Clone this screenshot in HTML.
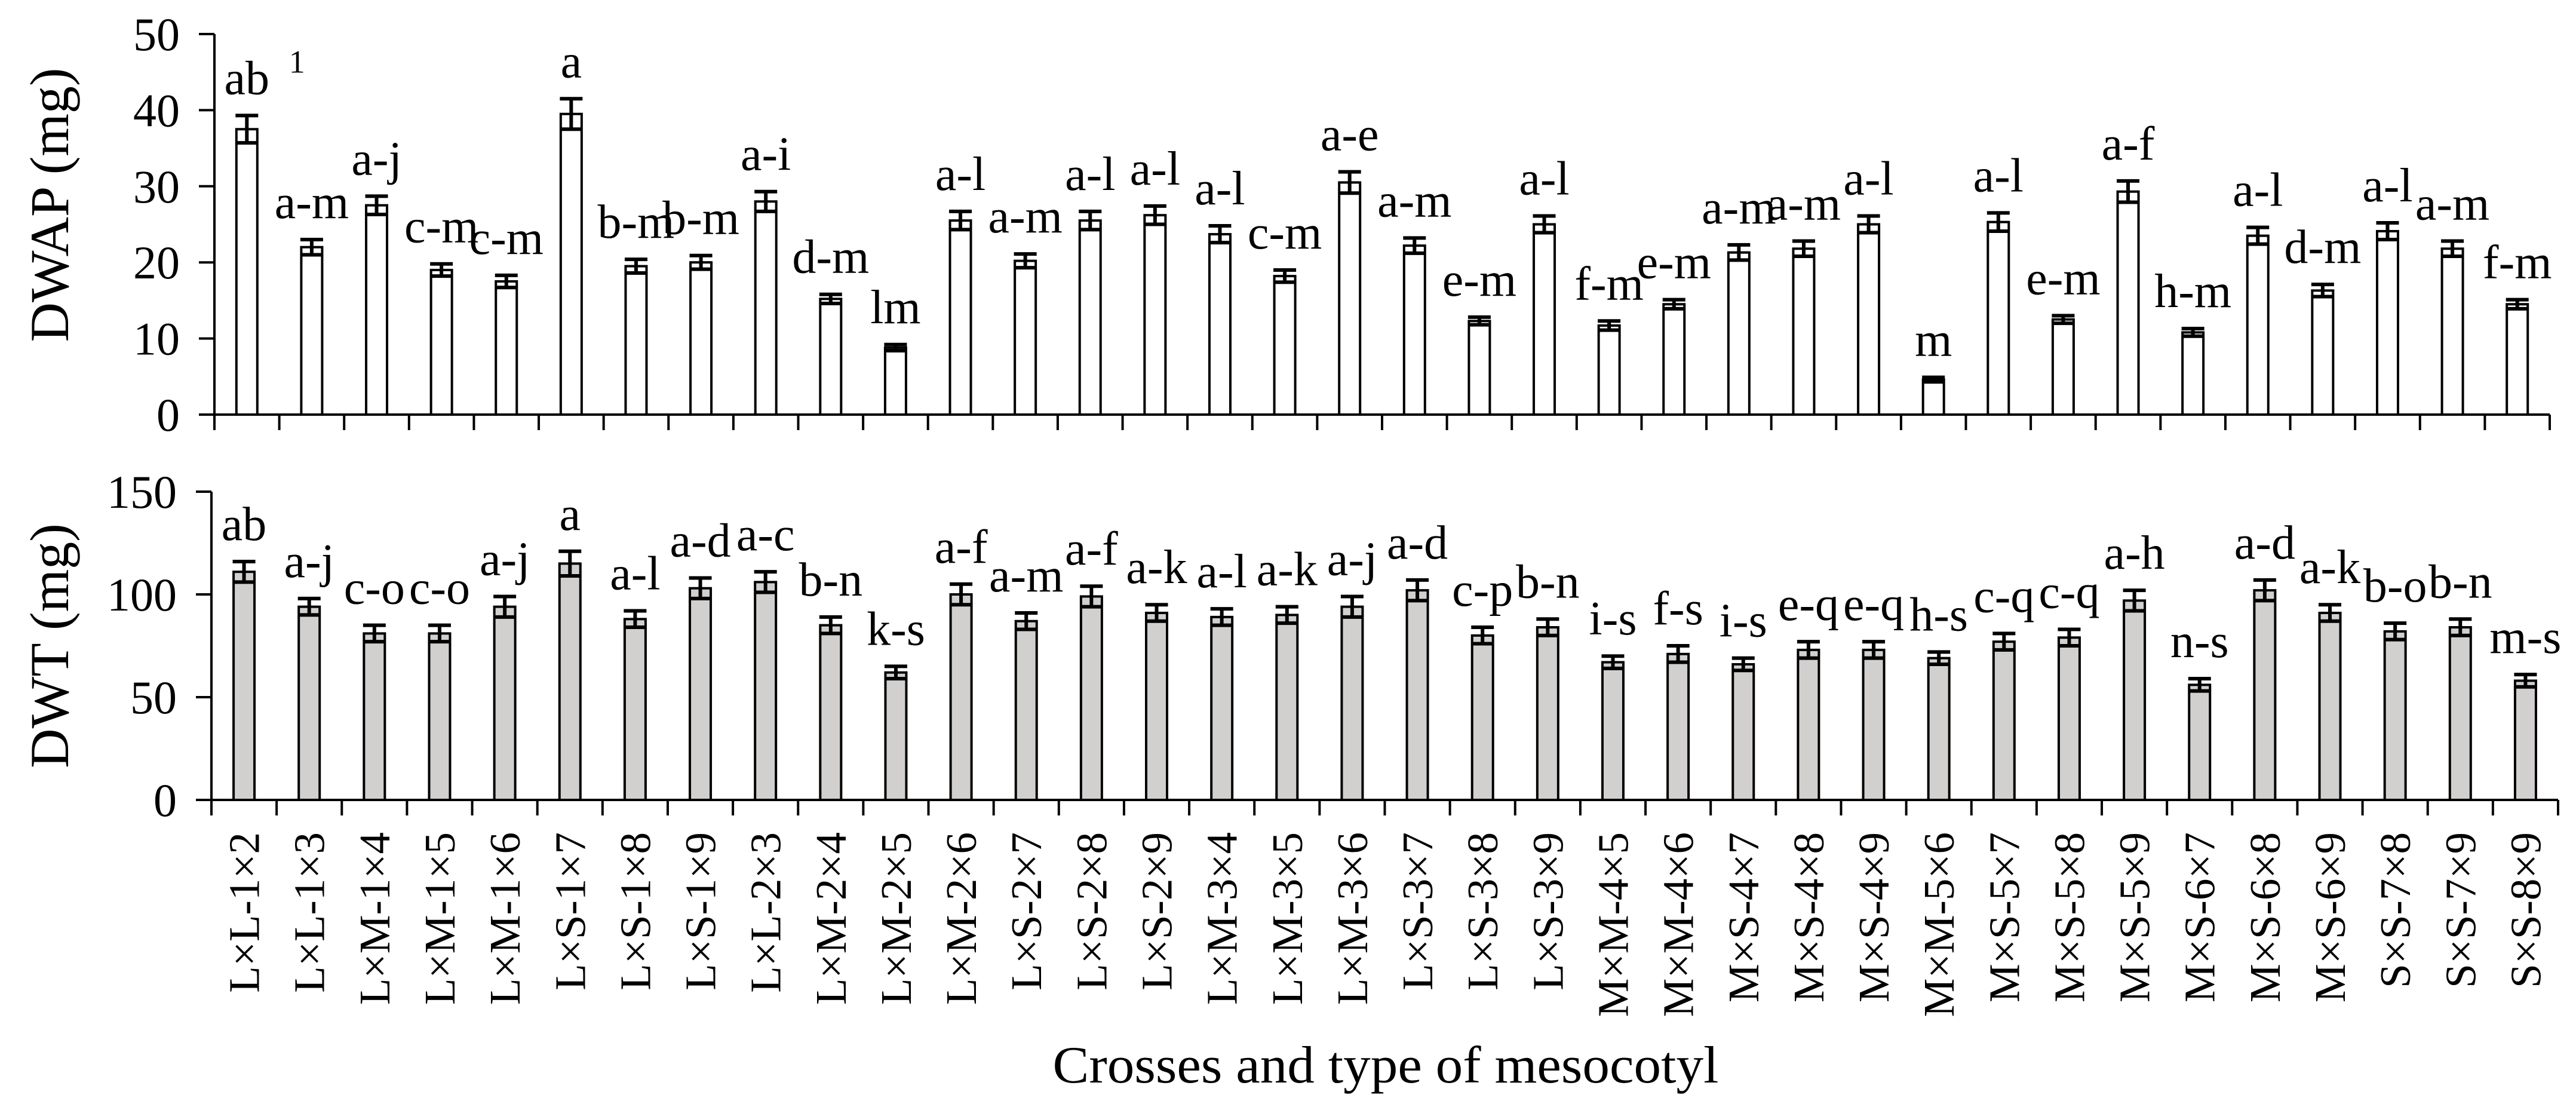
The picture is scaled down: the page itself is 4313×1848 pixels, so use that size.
<!DOCTYPE html>
<html><head><meta charset="utf-8"><style>
html,body{margin:0;padding:0;background:#fff;}
svg{display:block;font-family:"Liberation Serif",serif;}
</style></head><body>
<svg id="chart" width="4313" height="1848" viewBox="0 0 4313 1848" xmlns="http://www.w3.org/2000/svg">
<g id="top"></g>
<g id="bot"></g>
<text x="0" y="0" font-size="92" text-anchor="middle" transform="translate(114,343) rotate(-90)">DWAP (mg)</text>
<text x="0" y="0" font-size="92" text-anchor="middle" transform="translate(114,1081) rotate(-90)">DWT (mg)</text>
<text x="2320" y="1812" font-size="88" text-anchor="middle" textLength="1115" lengthAdjust="spacingAndGlyphs">Crosses and type of mesocotyl</text>
</svg>
<script>
const categories=["L×L-1×2","L×L-1×3","L×M-1×4","L×M-1×5","L×M-1×6","L×S-1×7","L×S-1×8","L×S-1×9","L×L-2×3","L×M-2×4","L×M-2×5","L×M-2×6","L×S-2×7","L×S-2×8","L×S-2×9","L×M-3×4","L×M-3×5","L×M-3×6","L×S-3×7","L×S-3×8","L×S-3×9","M×M-4×5","M×M-4×6","M×S-4×7","M×S-4×8","M×S-4×9","M×M-5×6","M×S-5×7","M×S-5×8","M×S-5×9","M×S-6×7","M×S-6×8","M×S-6×9","S×S-7×8","S×S-7×9","S×S-8×9"];
const dwapValues=[37.5,22,27.5,19,17.5,39.5,19.5,20,28,15.2,8.8,25.5,20.2,25.5,26.2,23.7,18.2,30.5,22.2,12.3,25,11.7,14.5,21.3,21.8,25,4.6,25.3,12.5,29.3,10.8,23.5,16.3,24.1,21.8,14.5];
const dwapErrors=[1.8,1,1.2,0.8,0.8,2,0.9,0.9,1.3,0.6,0.4,1.2,0.9,1.2,1.2,1.1,0.8,1.4,1,0.5,1.1,0.6,0.6,1,1,1.1,0.3,1.2,0.5,1.4,0.5,1.1,0.8,1.1,1,0.6];
const dwapLetters=["ab","a-m","a-j","c-m","c-m","a","b-m","b-m","a-i","d-m","lm","a-l","a-m","a-l","a-l","a-l","c-m","a-e","a-m","e-m","a-l","f-m","e-m","a-m","a-m","a-l","m","a-l","e-m","a-f","h-m","a-l","d-m","a-l","a-m","f-m"];
const dwtValues=[111,94,81,81,94,115,88,103,106,85,62,100,87,99,91,89,90,94,102,80,84,67,71,66,73,73,69,77,79,97,56,102,91,82,84,58];
const dwtErrors=[5,4,4,4,5,6,4,5,5,4,3,5,4,5,4,4,4,5,5,4,4,3,4,3,4,4,3,4,4,5,3,5,4,4,4,3];
const dwtLetters=["ab","a-j","c-o","c-o","a-j","a","a-l","a-d","a-c","b-n","k-s","a-f","a-m","a-f","a-k","a-l","a-k","a-j","a-d","c-p","b-n","i-s","f-s","i-s","e-q","e-q","h-s","c-q","c-q","a-h","n-s","a-d","a-k","b-o","b-n","m-s"];
const dwapTicks=[0,10,20,30,40,50];
const dwtTicks=[0,50,100,150];

const NS="http://www.w3.org/2000/svg";
function mk(parent,tag,attrs){const e=document.createElementNS(NS,tag);for(const k in attrs)e.setAttribute(k,attrs[k]);parent.appendChild(e);return e;}

function panel(g,opt){
  const n=categories.length;
  const x0=opt.x0,x1=opt.x1,y0=opt.y0,yTop=opt.yTop,max=opt.max;
  const step=(x1-x0)/n;
  const xc=i=>x0+step*(i+0.5);
  const y=v=>y0-(v/max)*(y0-yTop);
  const ya=mk(g,'line',{x1:x0,y1:y(max),x2:x0,y2:y0,stroke:'#000','stroke-width':4});
  
  
  opt.ticks.forEach(t=>{
    const tl=mk(g,'line',{x1:x0-26,y1:y(t),x2:x0,y2:y(t),stroke:'#000','stroke-width':4});
    
    
    const tx=mk(g,'text',{x:x0-58,y:y(t)+27,'font-size':78,'text-anchor':'end'});
    
    
    tx.textContent=t;
  });
  const xa=mk(g,'line',{x1:x0-26,y1:y0,x2:x1,y2:y0,stroke:'#000','stroke-width':4});
  
  
  for(let i=0;i<=n;i++){
    const tk=mk(g,'line',{x1:x0+step*i,y1:y0,x2:x0+step*i,y2:y0+26,stroke:'#000','stroke-width':4});
    
    
  }
  opt.values.forEach((v,i)=>{
    const cx=xc(i),bw=35;
    const r=mk(g,'rect',{x:cx-bw/2,y:y(v),width:bw,height:y0-y(v),fill:opt.fill,stroke:'#000','stroke-width':4});
    
    
    const e=opt.errors[i];
    const eg=mk(g,'g',{stroke:'#000','stroke-width':6});
    
    
    mk(eg,'line',{x1:cx,y1:y(v+e),x2:cx,y2:y(v-e)});
    mk(eg,'line',{x1:cx-19,y1:y(v+e),x2:cx+19,y2:y(v+e)});
    mk(eg,'line',{x1:cx-19,y1:y(v-e),x2:cx+19,y2:y(v-e)});
    const lt=mk(g,'text',{x:cx,y:y(v+e)-36,'font-size':80,'text-anchor':'middle'});
    
    
    lt.textContent=opt.letters[i];
    if(opt.sup&&i===0){
      const s=mk(g,'text',{x:cx+84,y:y(v+e)-72,'font-size':54,'text-anchor':'middle'});
      
      
      s.textContent='1';
    }
    if(opt.xlabels){
      const xl=mk(g,'text',{x:0,y:0,'font-size':73,'text-anchor':'end',transform:`translate(${cx+25},1393) rotate(-90)`});
      
      
      xl.textContent=categories[i];
    }
  });
}
panel(document.getElementById('top'),{x0:359,x1:4269,y0:694,yTop:57,max:50,ticks:dwapTicks,values:dwapValues,errors:dwapErrors,letters:dwapLetters,fill:'#ffffff',sup:true,xlabels:false});
panel(document.getElementById('bot'),{x0:354,x1:4283,y0:1339,yTop:823,max:150,ticks:dwtTicks,values:dwtValues,errors:dwtErrors,letters:dwtLetters,fill:'#d1d0ce',sup:false,xlabels:true});
</script>
</body></html>
